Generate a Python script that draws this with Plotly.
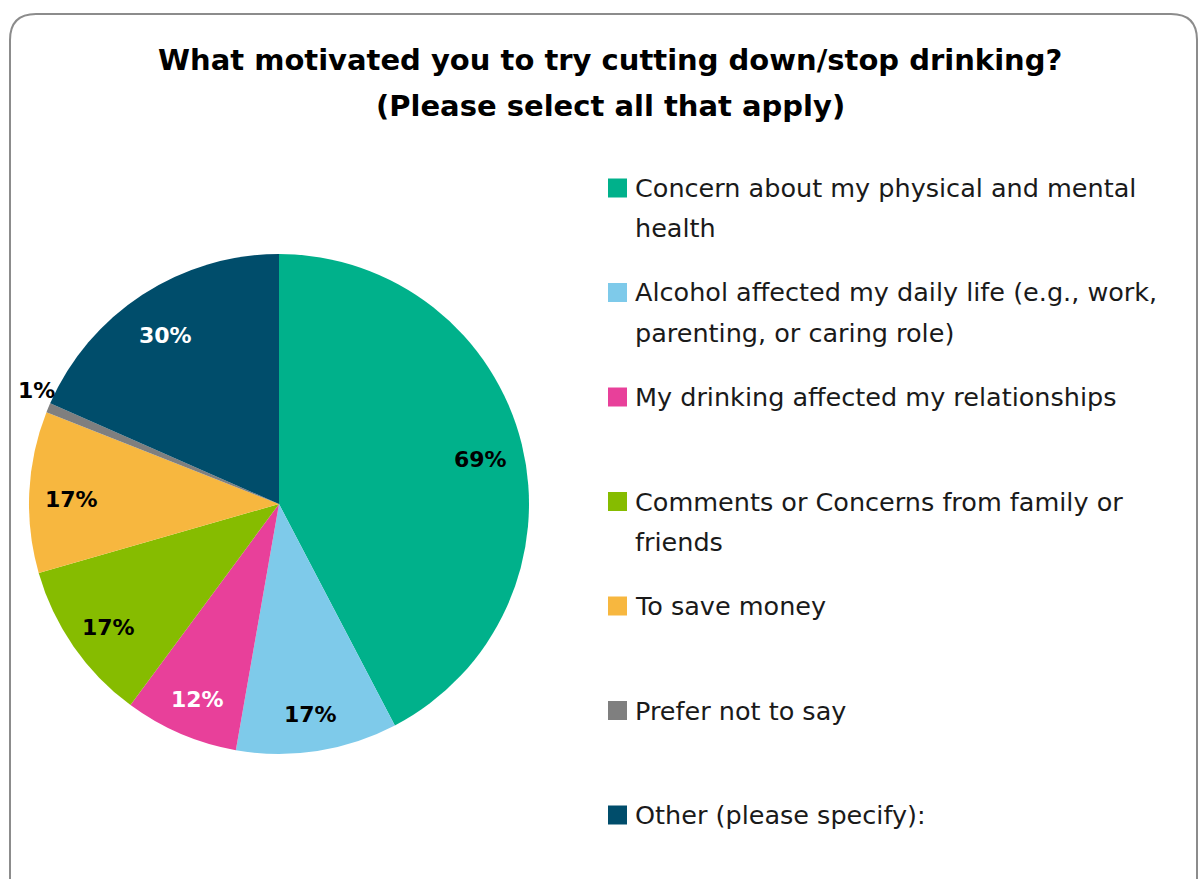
import math
import plotly.graph_objects as go

# Survey responses (percent of respondents, multiple answers allowed)
labels = [
    "Concern about my physical and mental<br>health",
    "Alcohol affected my daily life (e.g., work,<br>parenting, or caring role)",
    "My drinking affected my relationships",
    "Comments or Concerns from family or<br>friends",
    "To save money",
    "Prefer not to say",
    "Other (please specify):",
]
values = [69, 17, 12, 17, 17, 1, 30]
colors = ["#00B18B", "#7ECAEA", "#E8409A", "#86BC00", "#F7B73F", "#7F7F7F", "#004D6B"]
text_colors = ["#000000", "#000000", "#FFFFFF", "#000000", "#000000", "#000000", "#FFFFFF"]
outside = [False, False, False, False, False, True, False]

W, H = 1198, 879
FONT = "'DejaVu Sans', Inter, sans-serif"

# pie geometry in pixels
CX, CY, R = 279, 504, 250

fig = go.Figure()
fig.add_trace(go.Pie(
    labels=[l.replace("<br>", " ") for l in labels],
    values=values,
    textinfo="none",
    sort=False,
    direction="clockwise",
    rotation=0,
    marker=dict(colors=colors, line=dict(width=0)),
    showlegend=False,
    hovertemplate="%{label}: %{value}%<extra></extra>",
    domain=dict(x=[(CX - R) / W, (CX + R) / W], y=[1 - (CY + R) / H, 1 - (CY - R) / H]),
))

def P(x, y):
    return x / W, 1 - y / H

# Rounded card border
r = 26
x0, y0, x1, y1 = 10, 14, 1197, 905
pts = [("M", x0 + r, y0), ("L", x1 - r, y0), ("Q", x1, y0, x1, y0 + r),
       ("L", x1, y1 - r), ("Q", x1, y1, x1 - r, y1), ("L", x0 + r, y1),
       ("Q", x0, y1, x0, y1 - r), ("L", x0, y0 + r), ("Q", x0, y0, x0 + r, y0)]
segs = []
for p in pts:
    cmd, coords = p[0], p[1:]
    xy = []
    for k in range(0, len(coords), 2):
        px, py = P(coords[k], coords[k + 1])
        xy.append(f"{px:.5f},{py:.5f}")
    segs.append(cmd + " " + " ".join(xy))
path = " ".join(segs) + " Z"

shapes = [dict(type="path", xref="paper", yref="paper", path=path,
               line=dict(color="#8C8C8C", width=2), fillcolor="rgba(0,0,0,0)", layer="below")]

annotations = []
for k, t in enumerate(["What motivated you to try cutting down/stop drinking?",
                       "(Please select all that apply)"]):
    tx, ty = P(610, 60 + k * 46)
    annotations.append(dict(
        text=f"<b>{t}</b>", x=tx, y=ty, xref="paper", yref="paper",
        xanchor="center", yanchor="middle", showarrow=False,
        font=dict(family=FONT, size=29, color="#000000"),
    ))

# Percentage labels placed along each slice's mid angle
total = sum(values)
cum = 0
for v, tc, out in zip(values, text_colors, outside):
    mid = (cum + v / 2) / total * 2 * math.pi
    cum += v
    rf = 1.08 if out else 0.83
    lx = CX + rf * R * math.sin(mid)
    ly = CY - rf * R * math.cos(mid)
    ax, ay = P(lx, ly)
    annotations.append(dict(
        text=f"<b>{v}%</b>", x=ax, y=ay, xref="paper", yref="paper",
        xanchor="center", yanchor="middle", showarrow=False,
        xshift=7 if out else 0, yshift=10 if out else -5,
        font=dict(family=FONT, size=22, color=tc),
    ))

# Legend built from squares and text lines
item_top = 188
item_step = 104.5
line_step = 40
for i, (lab, col) in enumerate(zip(labels, colors)):
    yc = item_top + i * item_step
    sx0, sy0 = P(608, yc - 9.5)
    sx1, sy1 = P(627, yc + 9.5)
    shapes.append(dict(type="rect", xref="paper", yref="paper",
                       x0=sx0, x1=sx1, y0=sy0, y1=sy1,
                       fillcolor=col, line=dict(width=0)))
    for j, line in enumerate(lab.split("<br>")):
        lx, ly = P(633, yc + j * line_step)
        annotations.append(dict(
            text=line, x=lx, y=ly, xref="paper", yref="paper",
            xanchor="left", yanchor="middle", showarrow=False,
            font=dict(family=FONT, size=25.5, color="#1A1A1A"),
        ))

fig.update_layout(
    width=W, height=H,
    margin=dict(l=0, r=0, t=0, b=0),
    paper_bgcolor="#FFFFFF",
    plot_bgcolor="#FFFFFF",
    shapes=shapes,
    annotations=annotations,
)

fig.write_html("out.html")
